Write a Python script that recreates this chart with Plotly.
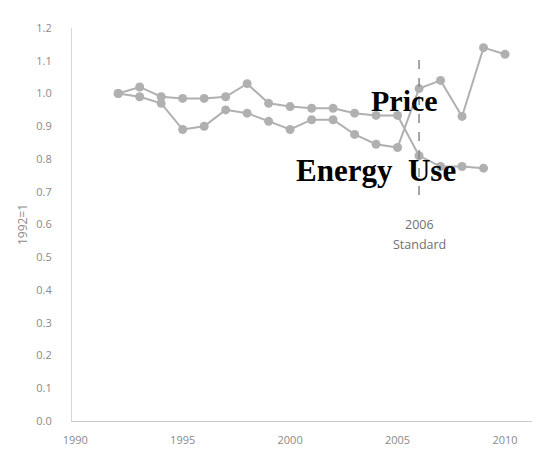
import plotly.graph_objects as go

price_years = [1992, 1993, 1994, 1995, 1996, 1997, 1998, 1999, 2000, 2001,
               2002, 2003, 2004, 2005, 2006, 2007, 2008, 2009, 2010]
price = [1.00, 0.99, 0.97, 0.89, 0.90, 0.95, 0.94, 0.915, 0.89, 0.92,
         0.92, 0.875, 0.845, 0.835, 1.015, 1.04, 0.93, 1.14, 1.12]

energy_years = [1992, 1993, 1994, 1995, 1996, 1997, 1998, 1999, 2000, 2001,
                2002, 2003, 2004, 2005, 2006, 2007, 2008, 2009]
energy = [1.00, 1.02, 0.99, 0.985, 0.985, 0.99, 1.03, 0.97, 0.96, 0.955,
          0.955, 0.94, 0.933, 0.933, 0.81, 0.777, 0.777, 0.772]

y_ticks = [0.0, 0.1, 0.2, 0.3, 0.4, 0.5, 0.6, 0.7, 0.8, 0.9, 1.0, 1.1, 1.2]
x_ticks = [1990, 1995, 2000, 2005, 2010]
standard_year = 2006

line_color = "#b0b0b0"
fig = go.Figure()
for xs, ys, name in [(price_years, price, "Price"), (energy_years, energy, "Energy Use")]:
    fig.add_trace(go.Scatter(
        x=xs, y=ys, mode="lines+markers", name=name,
        line=dict(color=line_color, width=2),
        marker=dict(color=line_color, size=9),
        showlegend=False,
    ))

fig.add_shape(type="line", x0=standard_year, x1=standard_year, y0=0.69, y1=1.12,
              xref="x", yref="y", line=dict(color="#888888", width=1.5, dash="dash"))

note_font = dict(family="Open Sans", size=12.5, color="#707070")
fig.add_annotation(x=standard_year, y=0.60, text="2006", showarrow=False,
                   font=note_font, xref="x", yref="y")
fig.add_annotation(x=standard_year, y=0.54, text="Standard", showarrow=False,
                   font=note_font, xref="x", yref="y")
fig.add_annotation(x=2005.3, y=0.978, text="<b>Price</b>", showarrow=False,
                   font=dict(family="Liberation Serif", size=30, color="black"), xref="x", yref="y")
fig.add_annotation(x=2004.0, y=0.766, text="<b>Energy&nbsp;&nbsp;Use</b>", showarrow=False,
                   font=dict(family="Liberation Serif", size=31, color="black"), xref="x", yref="y")

fig.update_layout(
    width=540, height=465,
    margin=dict(l=64, r=0, t=20, b=52),
    paper_bgcolor="white", plot_bgcolor="white",
    font=dict(family="Open Sans", size=11, color="#8a8a8a"),
)
fig.update_xaxes(range=[1989.85, 2012], tickvals=x_ticks, showgrid=False, zeroline=False,
                 showline=True, linecolor="#cccccc", linewidth=1, ticks="",
                 ticklabelstandoff=9, automargin=False)
fig.update_yaxes(range=[0, 1.2], tickvals=y_ticks, tickformat=".1f", showgrid=False,
                 zeroline=False, showline=True, linecolor="#d5d5d5", linewidth=1, ticks="",
                 ticklabelstandoff=17, automargin=False,
                 title=dict(text="1992=1", font=dict(size=12, color="#8a8a8a"), standoff=6))

fig.write_html("out.html")
